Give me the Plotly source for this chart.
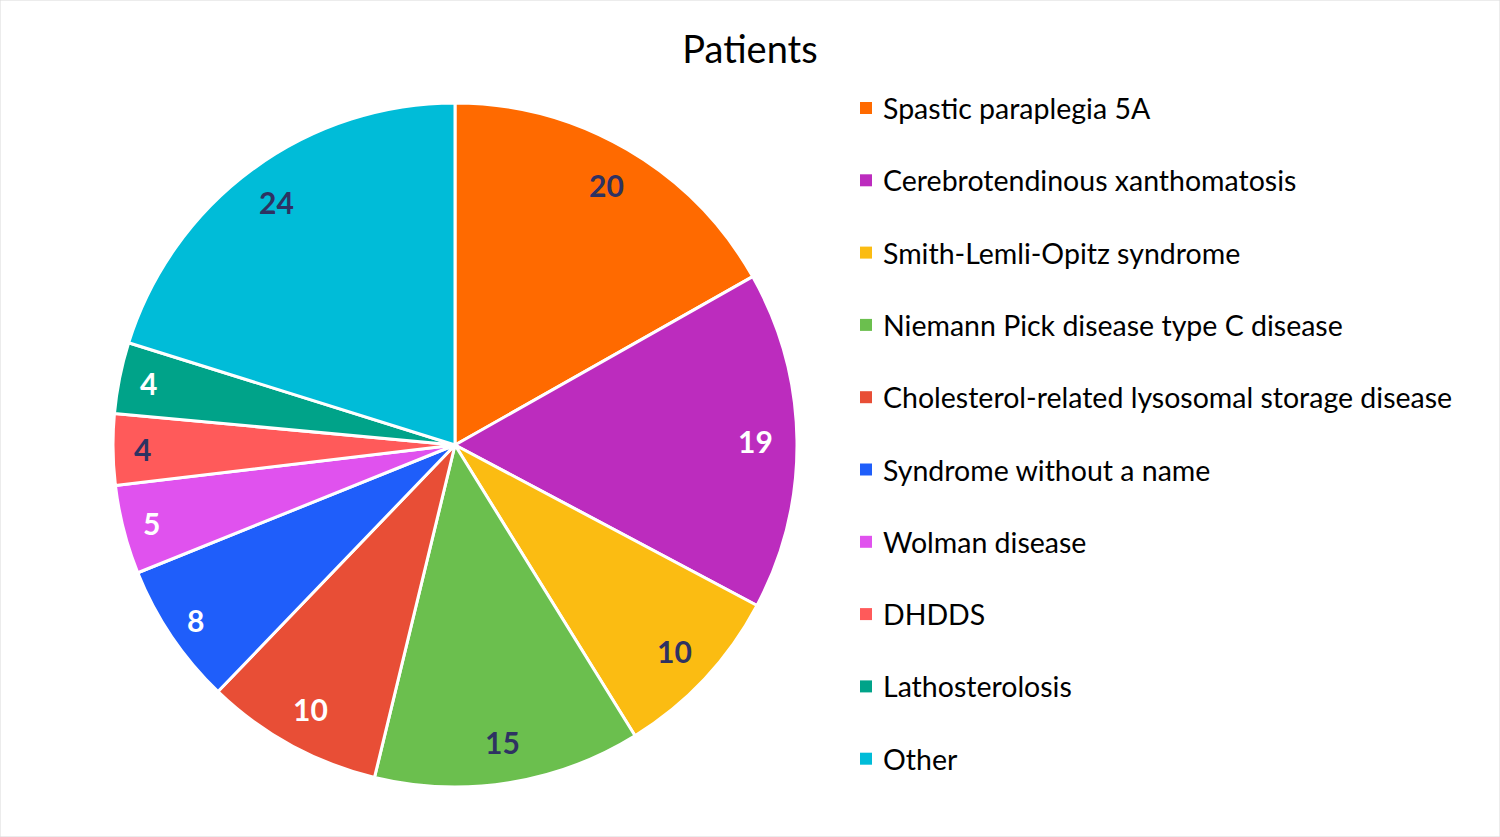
import math
import plotly.graph_objects as go

categories = ["Spastic paraplegia 5A", "Cerebrotendinous xanthomatosis", "Smith-Lemli-Opitz syndrome",
              "Niemann Pick disease type C disease", "Cholesterol-related lysosomal storage disease",
              "Syndrome without a name", "Wolman disease", "DHDDS", "Lathosterolosis", "Other"]
patients = [20, 19, 10, 15, 10, 8, 5, 4, 4, 24]
colors = ["#FF6A00", "#BC2CBE", "#FBBC12", "#6BBF4E", "#E84E36",
          "#1F5EFA", "#E052EE", "#FF5A5A", "#00A389", "#00BCD8"]
label_colors = ["#2E3262", "white", "#2E3262", "#2E3262", "white",
                "white", "white", "#2E3262", "white", "#2E3262"]

W, H = 1500, 837
cx, cy, R = 455, 445, 342

fig = go.Figure(go.Pie(
    labels=categories, values=patients, sort=False, direction="clockwise", rotation=0,
    marker=dict(colors=colors, line=dict(color="white", width=3)),
    textinfo="none", hoverinfo="label+value", showlegend=False,
    domain=dict(x=[(cx - R) / W, (cx + R) / W], y=[1 - (cy + R) / H, 1 - (cy - R) / H]),
))

annotations = []
total = sum(patients)
cum = 0
for v, tc in zip(patients, label_colors):
    mid = (cum + v / 2) / total * 2 * math.pi
    cum += v
    rf = 0.915 if v < 10 else 0.88
    px = cx + rf * R * math.sin(mid)
    py = cy - rf * R * math.cos(mid)
    annotations.append(dict(x=px / W, y=1 - py / H, xref="paper", yref="paper", text=f"<b>{v}</b>",
                            xanchor="center", yanchor="middle",
                            showarrow=False, font=dict(family="Lato", size=30, color=tc)))

shapes = [dict(type="rect", xref="paper", yref="paper", x0=0, y0=0, x1=1, y1=1,
               line=dict(color="#D9D9D9", width=1))]
for i, (name, col) in enumerate(zip(categories, colors)):
    yc = 108 + 72.3 * i
    shapes.append(dict(type="rect", xref="paper", yref="paper",
                       x0=860 / W, x1=872 / W, y0=1 - (yc + 6) / H, y1=1 - (yc - 6) / H,
                       fillcolor=col, line=dict(width=0)))
    annotations.append(dict(x=881 / W, y=1 - yc / H, xref="paper", yref="paper", text=name,
                            xanchor="left", yanchor="middle", showarrow=False,
                            font=dict(family="Lato", size=28.5, color="black")))

fig.update_layout(
    width=W, height=H, margin=dict(l=0, r=0, t=0, b=0),
    paper_bgcolor="white", plot_bgcolor="white",
    title=dict(text="Patients", x=0.5, xanchor="center", y=1 - 50 / H, yanchor="middle",
               font=dict(family="Lato", size=38, color="black")),
    annotations=annotations, shapes=shapes,
)
fig.write_html("out.html")
